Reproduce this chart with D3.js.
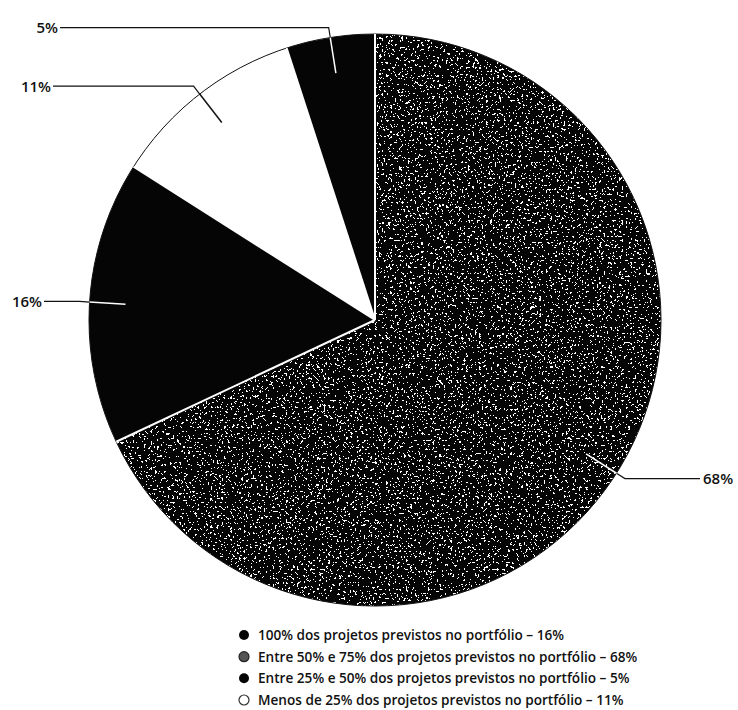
<!DOCTYPE html>
<html>
<head>
<meta charset="utf-8">
<script src="https://cdn.jsdelivr.net/npm/d3@7"></script>
<style>
  html, body { margin: 0; padding: 0; background: #fff; }
  svg { display: block; }
  text { font-family: "Open Sans", "DejaVu Sans", sans-serif; font-weight: 600; fill: #111; }
</style>
</head>
<body>
<svg id="chart" width="738" height="710"></svg>
<script>
// Portfolio coverage categories (legend order)
const categories = [
  "100% dos projetos previstos no portfólio",
  "Entre 50% e 75% dos projetos previstos no portfólio",
  "Entre 25% e 50% dos projetos previstos no portfólio",
  "Menos de 25% dos projetos previstos no portfólio"
];
const shares = [16, 68, 5, 11];
const shareLabels = ["16%", "68%", "5%", "11%"];
// Slice order clockwise from twelve o'clock
const sliceOrder = [1, 0, 3, 2];
const fills = ["black", "speckle", "black", "white"];

const cx = 375, cy = 320, R = 286;
const svg = d3.select("#chart");

// Speckled grey texture used for the 50–75% slice
const defs = svg.append("defs");
const f = defs.append("filter").attr("id", "speck")
  .attr("x", 0).attr("y", 0).attr("width", 1).attr("height", 1);
f.append("feTurbulence").attr("type", "fractalNoise")
  .attr("baseFrequency", "0.45").attr("numOctaves", 3).attr("seed", 7).attr("result", "noise");
f.append("feColorMatrix").attr("in", "noise").attr("type", "matrix")
  .attr("values", "0 0 0 0 1  0 0 0 0 1  0 0 0 0 1  1 0 0 0 0").attr("result", "a");
const ct = f.append("feComponentTransfer").attr("in", "a").attr("result", "dots");
ct.append("feFuncA").attr("type", "discrete")
  .attr("tableValues", "0 0 0 0 0 0 0 0 0 0 0 0 0 1 1 1 1 1 1 1");
f.append("feComposite").attr("in", "dots").attr("in2", "SourceGraphic").attr("operator", "in");

const pie = d3.pie().sort(null).value(i => shares[i]);
const arcs = pie(sliceOrder);
const arc = d3.arc().innerRadius(0).outerRadius(R);

const g = svg.append("g").attr("transform", `translate(${cx},${cy})`);

// Base slices
g.selectAll("path.slice").data(arcs).join("path")
  .attr("class", "slice")
  .attr("d", arc)
  .attr("fill", d => fills[d.data] === "white" ? "#fff" : "#050505");

// White speckles over the textured slice
g.selectAll("path.speck").data(arcs.filter(d => fills[d.data] === "speckle")).join("path")
  .attr("class", "speck")
  .attr("d", arc)
  .attr("fill", "#fff")
  .attr("filter", "url(#speck)");

// Outer rim and slice separators
g.append("circle").attr("r", R).attr("fill", "none").attr("stroke", "#111").attr("stroke-width", 1);
g.selectAll("path.sep").data(arcs).join("path")
  .attr("class", "sep")
  .attr("d", d => {
    const a = d.startAngle;
    return `M0,0L${R * Math.sin(a)},${-R * Math.cos(a)}`;
  })
  .attr("fill", "none").attr("stroke", "#fff").attr("stroke-width", 2);

// Leader lines and value labels
const rInner = 250, rElbow = 296;
const labelEnds = { 0: 42, 2: 58, 3: 51 }; // right edge of left-side labels
const rightLabelX = 703;
arcs.forEach(d => {
  const i = d.data;
  const m = (d.startAngle + d.endAngle) / 2;
  const sx = Math.sin(m), sy = -Math.cos(m);
  const p0 = [cx + rInner * sx, cy + rInner * sy];
  const pe = [cx + R * sx, cy + R * sy];
  const p1 = [cx + rElbow * sx, cy + rElbow * sy];
  const left = sx < 0;
  const tx = left ? labelEnds[i] : rightLabelX;
  const p2 = [left ? tx + 2 : tx - 3, p1[1]];
  svg.append("path")
    .attr("d", `M${pe}L${p1}L${p2}`)
    .attr("fill", "none").attr("stroke", "#111").attr("stroke-width", 1.2);
  svg.append("path")
    .attr("d", `M${p0}L${pe}`)
    .attr("fill", "none")
    .attr("stroke", fills[i] === "white" ? "#111" : "#fff")
    .attr("stroke-width", 1.5);
  svg.append("text")
    .attr("x", tx).attr("y", p1[1])
    .attr("dy", "0.36em")
    .attr("text-anchor", left ? "end" : "start")
    .attr("font-size", 15)
    .text(shareLabels[i]);
});

// Legend
const legend = svg.append("g");
const ly = d3.scalePoint().domain(d3.range(categories.length)).range([635, 700]);
categories.forEach((c, i) => {
  const y = ly(i);
  const mark = legend.append("circle").attr("cx", 244).attr("cy", y).attr("r", 5);
  if (fills[i] === "white") mark.attr("fill", "#fff").attr("stroke", "#333").attr("stroke-width", 1.2);
  else if (fills[i] === "speckle") mark.attr("fill", "#555").attr("stroke", "#222").attr("stroke-width", 1.2);
  else mark.attr("fill", "#050505");
  legend.append("text")
    .attr("x", 258).attr("y", y).attr("dy", "0.36em")
    .attr("font-size", 13.6)
    .text(`${c} – ${shareLabels[i]}`);
});
</script>
</body>
</html>
